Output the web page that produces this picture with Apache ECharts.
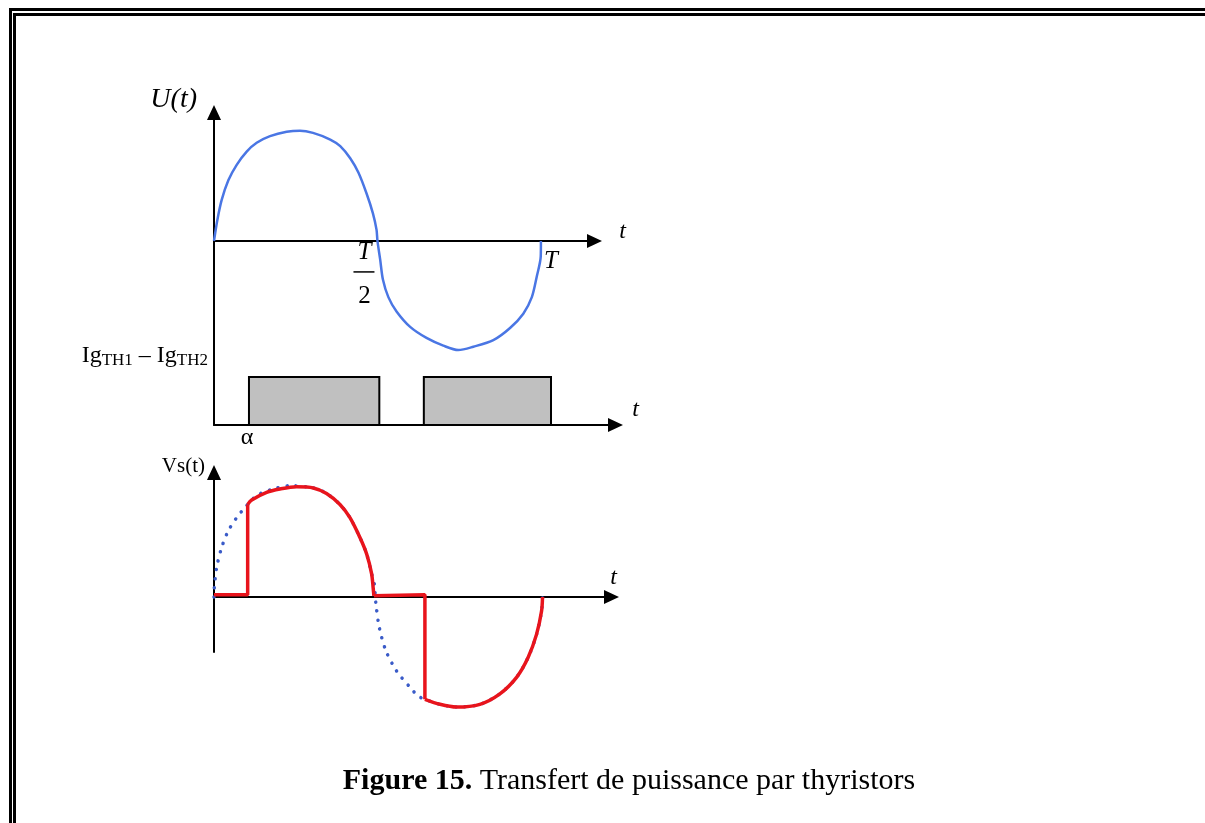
<!DOCTYPE html>
<html>
<head>
<meta charset="utf-8">
<script src="https://cdn.jsdelivr.net/npm/echarts@6/dist/echarts.min.js"></script>
<style>
html,body{margin:0;padding:0;background:#fff}
#main{width:1205px;height:823px}
</style>
</head>
<body>
<div id="main"></div>
<script>
// angles en degrés (T = 360), amplitudes normalisées
const uWave = [[0,0],[3.7,0.19],[8.4,0.37],[15.8,0.55],[25,0.69],[36,0.81],[47,0.89],[61.7,0.95],[80,0.99],[94.7,1.0],
  [109,0.98],[128,0.92],[139,0.86],[150,0.75],[159,0.62],[168,0.43],[175,0.25],[179,0.1],[180,0],
  [183,-0.17],[186,-0.35],[192,-0.51],[201,-0.64],[216,-0.78],[234,-0.88],[252.5,-0.95],[269,-0.99],[285.6,-0.96],
  [307.6,-0.9],[326,-0.79],[340.6,-0.66],[350,-0.51],[355.5,-0.32],[359.8,-0.14],[360,0]];
// impulsions de gâchette [début, fin, niveau]
const gatePulses = [[38.5,182,1],[231,371,1]];
// tension source (pointillés) sous Vs(t)
const vsSource = [[0,0],[0.3,0.08],[3,0.27],[8.5,0.45],[15.7,0.6],[25,0.72],[34,0.81],[47,0.92],[65.3,0.98],[83.7,1.01],
  [109.4,0.99],[124,0.94],[138.8,0.84],[149.8,0.72],[160.8,0.54],[168.2,0.39],[173.7,0.21],[176.6,0.12],[178.5,-0.07],
  [182.2,-0.28],[189.5,-0.49],[201,-0.67],[215.9,-0.82],[225,-0.9],[232.4,-0.93],[249,-0.975],[267.3,-1.0],[293,-0.975],
  [315,-0.88],[333.4,-0.73],[346.1,-0.55],[355.4,-0.34],[360.9,-0.13],[362,0]];
// Vs(t) : parties conduites (courbes) et bloquées (droites)
const vsOn1 = [[37.1,0.84],[41.5,0.88],[58,0.95],[72.7,0.98],[91,1.0],[109.4,0.99],[124,0.94],[138.8,0.84],[149.8,0.72],
  [160.8,0.54],[168.2,0.39],[173.7,0.21],[175.4,0.08],[176.2,0.01]];
const vsOn2 = [[232.4,-0.93],[249,-0.975],[267.3,-1.0],[293,-0.975],[315,-0.88],[333.4,-0.73],[346.1,-0.55],[355.4,-0.34],
  [360.9,-0.13],[362,0]];
const vsOff1 = [[0,0.02],[37.1,0.02],[37.1,0.84]];
const vsOff2 = [[176.2,0.01],[176.2,0.02],[232.4,0.02],[232.4,-0.93]];
const tickMarks = [180, 360]; // T/2 et T
const alphaDeg = 38.5;
const xMax = [419, 442, 438];

const SERIF = '"Liberation Serif", "DejaVu Serif", serif';
const BLUE = '#4a76e4';
const RED = '#e8141c';

let chart = echarts.init(document.getElementById('main'));

function axisX(grid) {
    return {
        gridIndex: grid, type: 'value', min: 0, max: xMax[grid],
        axisLine: {onZero: true, lineStyle: {color: '#000', width: 2}, symbol: ['none','triangle'], symbolSize: [14,15]},
        axisTick: {show: false}, axisLabel: {show: false}, splitLine: {show: false}
    };
}
function axisY(grid, min, max, showLine) {
    return {
        gridIndex: grid, type: 'value', min: min, max: max,
        axisLine: {show: showLine, lineStyle: {color: '#000', width: 2}, symbol: ['none','triangle'], symbolSize: [14,15]},
        axisTick: {show: false}, axisLabel: {show: false}, splitLine: {show: false}
    };
}
function redLine(data, smooth) {
    return {
        type: 'line', xAxisIndex: 2, yAxisIndex: 2, data: data, smooth: smooth, clip: false,
        symbol: 'none', lineStyle: {color: RED, width: 3.5}, z: 4
    };
}

let option = {
    animation: false,
    backgroundColor: '#fff',
    grid: [
        {left: 214, top: 112.5, width: 380.5, height: 312.5},
        {left: 214, top: 377, width: 401.5, height: 48},
        {left: 214, top: 472.5, width: 397.5, height: 179.5}
    ],
    xAxis: [axisX(0), axisX(1), axisX(2)],
    yAxis: [
        axisY(0, -1.67, 1.165, true),
        axisY(1, 0, 1, false),
        axisY(2, -0.5, 1.13, true)
    ],
    series: [
        {
            type: 'line', xAxisIndex: 0, yAxisIndex: 0, data: uWave, smooth: 0.3,
            symbol: 'none', lineStyle: {color: BLUE, width: 2.5}, z: 3
        },
        {
            type: 'custom', xAxisIndex: 1, yAxisIndex: 1, data: gatePulses,
            encode: {x: [0,1], y: 2},
            renderItem: function (params, api) {
                let s = api.coord([api.value(0), api.value(2)]);
                let e = api.coord([api.value(1), 0]);
                return {
                    type: 'rect',
                    shape: {x: s[0], y: s[1], width: e[0]-s[0], height: e[1]-s[1]},
                    style: {fill: '#c0c0c0', stroke: '#000', lineWidth: 2}
                };
            },
            z: 1
        },
        {
            type: 'line', xAxisIndex: 2, yAxisIndex: 2, data: vsSource, smooth: 0.3, clip: false,
            symbol: 'none', lineStyle: {color: '#3a5bc8', width: 3.5, type: [0.1, 9], cap: 'round'}, z: 2
        },
        redLine(vsOn1, 0.3),
        redLine(vsOn2, 0.3),
        redLine(vsOff1, false),
        redLine(vsOff2, false)
    ]
};
chart.setOption(option);

// textes placés depuis les coordonnées des axes
let px = (g, p) => chart.convertToPixel({gridIndex: g}, p);
let half = px(0, [tickMarks[0], 0]);
let full = px(0, [tickMarks[1], 0]);
let al = px(1, [alphaDeg, 0]);
let ends = [px(0, [xMax[0], 0]), px(1, [xMax[1], 0]), px(2, [xMax[2], 0])];
let yTop = [px(0, [0, 1.165]), px(1, [0, 1]), px(2, [0, 1.13])];
let txt = function (x, y, text, size, italic, align) {
    return {type: 'text', x: x, y: y, z: 10, style: {text: text, fontFamily: SERIF, fontSize: size, fontStyle: italic ? 'italic' : 'normal',
        fill: '#000', align: align || 'center', verticalAlign: 'middle'}};
};
chart.setOption({
    graphic: [
        txt(half[0]-13, half[1]+12, 'T', 25, true),
        {type: 'line', shape: {x1: half[0]-24, y1: half[1]+31, x2: half[0]-3, y2: half[1]+31}, style: {stroke: '#000', lineWidth: 1.5}},
        txt(half[0]-13, half[1]+56, '2', 25, false),
        txt(full[0]+10, full[1]+21, 'T', 25, true),
        txt(al[0]-2, al[1]+13, 'α', 24, false),
        txt(ends[0][0]+28, ends[0][1]-9, 't', 24, true),
        txt(ends[1][0]+20, ends[1][1]-15, 't', 24, true),
        txt(ends[2][0]+2, ends[2][1]-19, 't', 24, true),
        txt(yTop[0][0]-17, yTop[0][1]-13, 'U(t)', 28, true, 'right'),
        txt(yTop[2][0]-9, yTop[2][1]-6, 'Vs(t)', 21, false, 'right'),
        {
            type: 'text', x: yTop[1][0]-6, y: yTop[1][1]-21, z: 10,
            style: {
                text: '{m|Ig}{s|TH1}{m| – Ig}{s|TH2}',
                align: 'right', verticalAlign: 'middle',
                rich: {
                    m: {fontFamily: SERIF, fontSize: 24, fill: '#000', lineHeight: 26},
                    s: {fontFamily: SERIF, fontSize: 17, fill: '#000', verticalAlign: 'bottom', lineHeight: 22}
                }
            }
        },
        {type: 'polyline', shape: {points: [[10.5,823],[10.5,9.5],[1205,9.5]]}, style: {stroke: '#000', lineWidth: 3, fill: null}},
        {type: 'polyline', shape: {points: [[14.5,823],[14.5,14.5],[1205,14.5]]}, style: {stroke: '#000', lineWidth: 3, fill: null}},
        {
            type: 'text', x: 629, y: 781,
            style: {
                text: '{b|Figure 15.}{r| Transfert de puissance par thyristors}',
                align: 'center', verticalAlign: 'middle',
                rich: {
                    b: {fontFamily: SERIF, fontWeight: 'bold', fontSize: 30, fill: '#000'},
                    r: {fontFamily: SERIF, fontSize: 30, fill: '#000'}
                }
            }
        }
    ]
});
</script>
</body>
</html>
